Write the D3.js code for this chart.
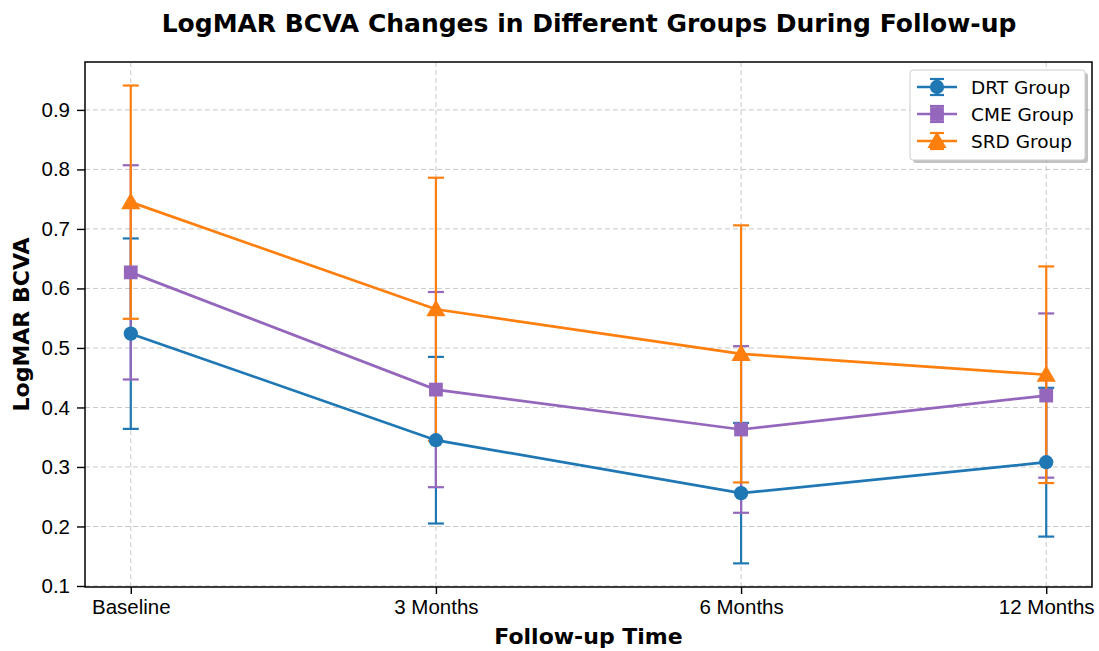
<!DOCTYPE html>
<html>
<head>
<meta charset="utf-8">
<script src="https://cdn.jsdelivr.net/npm/d3@7"></script>
<style>
  body { margin: 0; background: #fff; }
  svg { font-family: "DejaVu Sans", sans-serif; }
  .grid line { stroke: #c8c8c8; stroke-dasharray: 5,3; stroke-width: 1; }
  .axis text { font-size: 20.5px; fill: #000; }
  .axis path, .axis line { stroke: #000; stroke-width: 1.4; }
</style>
</head>
<body>
<div id="chart"></div>
<script>
// data
const timepoints = ["Baseline", "3 Months", "6 Months", "12 Months"];
const drtMean = [0.524, 0.345, 0.256, 0.308];
const drtSd   = [0.160, 0.140, 0.118, 0.125];
const cmeMean = [0.627, 0.430, 0.363, 0.420];
const cmeSd   = [0.180, 0.164, 0.140, 0.138];
const srdMean = [0.745, 0.565, 0.490, 0.455];
const srdSd   = [0.196, 0.221, 0.216, 0.182];
const yTicks  = [0.1, 0.2, 0.3, 0.4, 0.5, 0.6, 0.7, 0.8, 0.9];

const groups = [
  {name: "DRT Group", mean: drtMean, sd: drtSd, color: "#1f77b4", shape: "circle"},
  {name: "CME Group", mean: cmeMean, sd: cmeSd, color: "#9467bd", shape: "square"},
  {name: "SRD Group", mean: srdMean, sd: srdSd, color: "#ff7f0e", shape: "triangle"}
];

const width = 1099, height = 651;
const margin = {top: 62, left: 85, right: 7, bottom: 64};
const iw = width - margin.left - margin.right, ih = height - margin.top - margin.bottom;

const svg = d3.select("#chart").append("svg").attr("width", width).attr("height", height);
const g = svg.append("g").attr("transform", `translate(${margin.left},${margin.top})`);

var x = d3.scaleLinear().domain([-0.15, 3.15]).range([0, iw]);
var y = d3.scaleLinear().domain([0.0983, 0.9805]).range([ih, 0]);

// grid
g.append("g").attr("class", "grid").selectAll("line").data(yTicks).enter().append("line")
  .attr("x1", 0).attr("x2", iw).attr("y1", d => y(d)).attr("y2", d => y(d));
g.append("g").attr("class", "grid").selectAll("line").data(timepoints).enter().append("line")
  .attr("y1", 0).attr("y2", ih).attr("x1", (d, i) => x(i)).attr("x2", (d, i) => x(i));

// axes
var xAxis = d3.axisBottom(x).tickValues([0, 1, 2, 3]).tickFormat(i => timepoints[i]).tickSize(7).tickPadding(5);
var yAxis = d3.axisLeft(y).tickValues(yTicks).tickFormat(d3.format(".1f")).tickSize(8).tickPadding(7);
g.append("g").attr("class", "axis").attr("transform", `translate(0,${ih})`).call(xAxis).select(".domain").remove();
g.append("g").attr("class", "axis").call(yAxis).select(".domain").remove();

// error bars (below all lines)
const capW = 8;
groups.forEach(grp => {
  const eb = g.append("g").attr("stroke", grp.color).attr("stroke-width", 2.2);
  grp.mean.forEach((m, i) => {
    const lo = y(m - grp.sd[i]), hi = y(m + grp.sd[i]), cx = x(i);
    eb.append("line").attr("x1", cx).attr("x2", cx).attr("y1", lo).attr("y2", hi);
    eb.append("line").attr("x1", cx - capW).attr("x2", cx + capW).attr("y1", lo).attr("y2", lo);
    eb.append("line").attr("x1", cx - capW).attr("x2", cx + capW).attr("y1", hi).attr("y2", hi);
  });
});

const symbols = {circle: d3.symbolCircle, square: d3.symbolSquare, triangle: d3.symbolTriangle};
const sizes = {circle: 160, square: 190, triangle: 160};
const line = d3.line().x((d, i) => x(i)).y(d => y(d));

groups.forEach(grp => {
  g.append("path").datum(grp.mean).attr("d", line).attr("fill", "none")
    .attr("stroke", grp.color).attr("stroke-width", 2.7);
  g.selectAll(null).data(grp.mean).enter().append("path")
    .attr("d", d3.symbol().type(symbols[grp.shape]).size(sizes[grp.shape]))
    .attr("transform", (d, i) => `translate(${x(i)},${y(d) + (grp.shape == "triangle" ? 1.5 : 0)})`)
    .attr("fill", grp.color);
});

// frame
g.append("rect").attr("width", iw).attr("height", ih).attr("fill", "none").attr("stroke", "#000").attr("stroke-width", 1.5);

// legend
const lg = g.append("g").attr("transform", `translate(${iw - 182},${8})`);
lg.append("rect").attr("x", 3).attr("y", 3).attr("width", 175).attr("height", 90).attr("rx", 3).attr("fill", "#999").attr("opacity", 0.6);
lg.append("rect").attr("width", 175).attr("height", 90).attr("rx", 3).attr("fill", "#fff").attr("stroke", "#ccc");
groups.forEach((grp, k) => {
  const ry = 17 + k * 27;
  const row = lg.append("g").attr("transform", `translate(0,${ry})`);
  row.append("line").attr("x1", 7).attr("x2", 47).attr("y1", 0).attr("y2", 0).attr("stroke", grp.color).attr("stroke-width", 2.7);
  row.append("line").attr("x1", 27).attr("x2", 27).attr("y1", -8).attr("y2", 8).attr("stroke", grp.color).attr("stroke-width", 2.2);
  row.append("line").attr("x1", 20).attr("x2", 34).attr("y1", -8).attr("y2", -8).attr("stroke", grp.color).attr("stroke-width", 2.2);
  row.append("line").attr("x1", 20).attr("x2", 34).attr("y1", 8).attr("y2", 8).attr("stroke", grp.color).attr("stroke-width", 2.2);
  row.append("path").attr("d", d3.symbol().type(symbols[grp.shape]).size(sizes[grp.shape]))
    .attr("transform", `translate(27,${grp.shape == "triangle" ? 1.5 : 0})`).attr("fill", grp.color);
  row.append("text").attr("x", 61).attr("y", 7).attr("font-size", 18.5).text(grp.name);
});

// titles
svg.append("text").attr("x", 589).attr("y", 32).attr("text-anchor", "middle")
  .attr("font-size", 25).attr("font-weight", "bold").text("LogMAR BCVA Changes in Different Groups During Follow-up");
svg.append("text").attr("x", margin.left + iw / 2).attr("y", 644).attr("text-anchor", "middle")
  .attr("font-size", 22).attr("font-weight", "bold").text("Follow-up Time");
svg.append("text").attr("transform", `translate(29,${margin.top + ih / 2}) rotate(-90)`).attr("text-anchor", "middle")
  .attr("font-size", 22).attr("font-weight", "bold").text("LogMAR BCVA");
</script>
</body>
</html>
